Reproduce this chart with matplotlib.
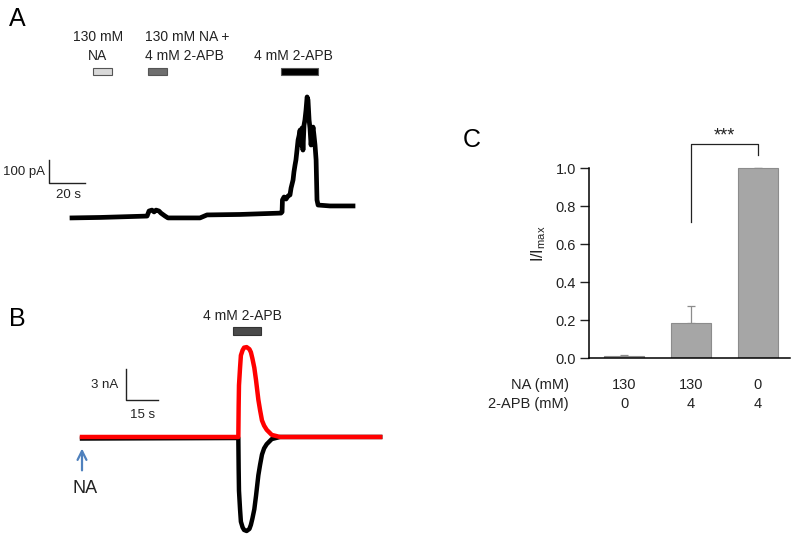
import matplotlib
matplotlib.use("Agg")
import matplotlib.pyplot as plt

plt.rcParams['font.family'] = ['Liberation Sans', 'DejaVu Sans']

# ---- panel A data: whole-cell trace (s, pA)
a_time = [0, 15.6, 41.7, 42.8, 44.4, 45.6, 46.7, 48.3, 49.4, 51.7, 53.3, 71.1,
          75.0, 93.3, 116.1, 116.7, 116.9, 117.8, 118.9, 120.0, 121.1, 121.7,
          122.8, 123.3, 123.9, 124.4, 125.0, 125.6, 126.1, 126.7, 127.2,
          127.8, 128.3, 128.9, 129.4, 130.0, 130.6, 131.1, 131.7, 132.2,
          132.8, 133.3, 133.9, 134.4, 135.0, 135.6, 136.1, 136.7, 143.3, 156.1]
a_curr = [-4, -2, 4, 26, 30, 22, 30, 26, 17, 4, -4, -4,
          9, 11, 17, 22, 74, 87, 78, 91, 96, 126,
          161, 196, 226, 248, 291, 335, 352, 378, 313,
          387, 291, 400, 422, 465, 522, 509, 422, 387,
          313, 357, 391, 357, 313, 248, 74, 52, 48, 48]
a_bars = [(11.7, 22.2), (42.2, 52.8), (116.1, 136.7)]
a_bar_colors = ['#d9d9d9', '#6e6e6e', '#000000']
a_labels = ['130 mM\nNA', '130 mM NA +\n4 mM 2-APB', '4 mM 2-APB']

# ---- panel B data: two traces (s, nA)
b_time = [0, 73.4, 73.55, 73.7, 74.2, 74.6, 75.4, 76.1, 77.3, 78.6, 79.3,
          80.0, 80.9, 81.7, 82.8, 83.6, 84.5, 85.5, 86.7, 89.1, 93.0, 140.0]
b_red = [0, 0, 3.0, 5.0, 6.7, 7.9, 8.4, 8.65, 8.7, 8.5, 8.2,
         7.6, 6.7, 5.5, 3.6, 2.6, 1.6, 1.1, 0.7, 0.2, 0, 0]
b_black = [-0.15, -0.1, -3.1, -5.2, -7.0, -8.2, -8.75, -9.0, -9.1, -8.9, -8.5,
           -7.9, -7.0, -5.7, -3.7, -2.7, -1.7, -1.1, -0.7, -0.2, 0, 0]

# ---- panel C data
c_na = ['130', '130', '0']
c_apb = ['0', '4', '4']
c_vals = [0.008, 0.186, 0.998]
c_err = [0.008, 0.088, 0.002]

fig = plt.figure(figsize=(7.95, 5.41), dpi=100)
W, H = 795, 541


def px_axes(x0, y0, x1, y1):
    return fig.add_axes([x0 / W, 1 - y1 / H, (x1 - x0) / W, (y1 - y0) / H])


txt = '#222222'

# ---------------- A
axA = px_axes(0, 0, 380, 235)
axA.set_xlim(-40, 171.1)
axA.set_ylim(-78.3, 943.5)
axA.axis('off')
axA.plot(a_time, a_curr, color='black', lw=3.4, solid_joinstyle='round')
for (t0, t1), col in zip(a_bars, a_bar_colors):
    axA.add_patch(plt.Rectangle((t0, 617), t1 - t0, 31, facecolor=col,
                                edgecolor='#555555', lw=0.8))
axA.text(14.4, 668, a_labels[0], ha='center', va='bottom', fontsize=10,
         color=txt, linespacing=1.5)
axA.text(40.6, 668, a_labels[1], ha='left', va='bottom', fontsize=10,
         color=txt, linespacing=1.5)
axA.text(122.8, 668, a_labels[2], ha='center', va='bottom', fontsize=10,
         color=txt)
# scale bar
axA.plot([-12.8, -12.8, 7.2], [248, 148, 148], color=txt, lw=1)
axA.text(-15, 196, '100 pA', ha='right', va='center', fontsize=9.5, color=txt)
axA.text(-2.2, 96, '20 s', ha='center', va='center', fontsize=9.5, color=txt)

# ---------------- B
axB = px_axes(0, 300, 400, 541)
axB.set_xlim(-38.5, 149.3)
axB.set_ylim(-10.07, 13.26)
axB.axis('off')
axB.plot(b_time, b_black, color='black', lw=3.2, solid_joinstyle='round')
axB.plot(b_time, b_red, color='#ff0000', lw=3.2, solid_joinstyle='round')
axB.add_patch(plt.Rectangle((70.9, 9.87), 13.1, 0.78, facecolor='#4a4a4a',
                            edgecolor='#333333', lw=0.8))
axB.text(75.4, 11.7, '4 mM 2-APB', ha='center', va='center', fontsize=10,
         color=txt)
axB.plot([20.7, 20.7, 35.7], [6.58, 3.58, 3.58], color=txt, lw=1)
axB.text(16.9, 5.0, '3 nA', ha='right', va='center', fontsize=9.5, color=txt)
axB.text(28.6, 2.1, '15 s', ha='center', va='center', fontsize=9.5, color=txt)
axB.annotate('', xy=(0, -0.85), xytext=(0, -3.5),
             arrowprops=dict(arrowstyle='->', color='#4f81bd', lw=1.6,
                             mutation_scale=16))
axB.text(1.4, -4.95, 'NA', ha='center', va='center', fontsize=13, color=txt)

# ---------------- C
y0px = 358
ppu = 190
axC = px_axes(589, y0px - 1.2 * ppu, 790, y0px)
x = [0, 1, 2]
axC.bar(x, c_vals, width=0.6, color='#a6a6a6', edgecolor='#8c8c8c', lw=0.8,
        zorder=2)
axC.errorbar(x, c_vals, yerr=[[0, 0, 0], c_err], fmt='none', ecolor='#8c8c8c',
             elinewidth=0.9, capsize=3, capthick=0.9, zorder=1)
axC.set_xlim(-0.53, 2.48)
axC.set_ylim(0, 1.2)
for s in ['top', 'right']:
    axC.spines[s].set_visible(False)
axC.spines['left'].set_bounds(0, 1.0)
axC.spines['left'].set_linewidth(1.1)
axC.spines['bottom'].set_linewidth(1.1)
axC.set_yticks([0, 0.2, 0.4, 0.6, 0.8, 1.0])
axC.set_yticklabels(['0.0', '0.2', '0.4', '0.6', '0.8', '1.0'])
axC.tick_params(axis='y', direction='out', length=6.5, width=1, labelsize=10.5,
                colors=txt, pad=3)
axC.set_xticks([])
axC.set_ylabel('I/I$_\\mathregular{max}$', fontsize=11.5, color=txt,
               labelpad=5)
# significance bracket
axC.plot([1, 1, 2, 2], [0.716, 1.126, 1.126, 1.068], color=txt, lw=0.9,
         clip_on=False)
axC.text(1.5, 1.125, '***', ha='center', va='bottom', fontsize=13, color=txt)
# condition table
for xi, na, apb in zip(x, c_na, c_apb):
    axC.text(xi, -0.14, na, ha='center', va='center', fontsize=10.5, color=txt)
    axC.text(xi, -0.24, apb, ha='center', va='center', fontsize=10.5, color=txt)
axC.text(-0.83, -0.14, 'NA (mM)', ha='right', va='center', fontsize=10.5,
         color=txt)
axC.text(-0.83, -0.24, '2-APB (mM)', ha='right', va='center', fontsize=10.5,
         color=txt)

fig.text(17 / W, 1 - 19 / H, 'A', ha='center', va='center', fontsize=18)
fig.text(17 / W, 1 - 319 / H, 'B', ha='center', va='center', fontsize=18)
fig.text(472 / W, 1 - 140 / H, 'C', ha='center', va='center', fontsize=18)

fig.savefig('out.png', dpi=100)
